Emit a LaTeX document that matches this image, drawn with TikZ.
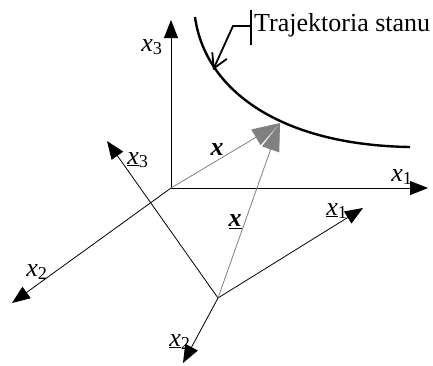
\documentclass[tikz,border=0pt]{standalone}
\usepackage{fontspec}
\setmainfont{Liberation Serif}
\usetikzlibrary{arrows.meta}

\newcommand{\ax}[1]{\textit{x}\textsubscript{#1}}
\newcommand{\uax}[1]{\underline{\textit{x}}\textsubscript{#1}}

\begin{document}
\begin{tikzpicture}[x=1pt,y=-1pt,
  axis/.style={line width=.8pt,-{Triangle[length=18pt,width=14pt]}},
  vec/.style={black!50,line width=.8pt,-{Triangle[length=28pt,width=18pt]}},
  lab/.style={inner sep=0pt,font=\fontsize{26}{30}\selectfont}]
\path[use as bounding box] (0,0) rectangle (433,365);
% frame 1
\coordinate (O) at (171,188);
\coordinate (x1end) at (428,188);
\coordinate (x2end) at (12,303);
\coordinate (x3end) at (171,20);
\draw[axis] (O) -- (x1end);
\draw[axis] (O) -- (x2end);
\draw[axis] (O) -- (x3end);
% frame 2
\coordinate (Op) at (218,298);
\coordinate (u1end) at (363,208);
\coordinate (u2end) at (183,363);
\coordinate (u3end) at (107,141);
\draw[axis] (Op) -- (u1end);
\draw[axis] (Op) -- (u2end);
\draw[axis] (Op) -- (u3end);
% state vector
\coordinate (P) at (280,123);
\draw[vec] (O) -- (P);
\draw[vec] (Op) -- (P);
% trajectory
\draw[line width=2.4pt] (195,17) .. controls (205,90) and (280,145) .. (410,147);
\node[lab,anchor=west] (traj) at (254,25) {Trajektoria stanu};
\coordinate (bartop) at (251,10);
\coordinate (barbot) at (251,45);
\coordinate (hook) at (233,26);
\coordinate (ontraj) at (213,70);
\draw[line width=1.8pt] (bartop) -- (barbot);
\draw[line width=1.8pt,-{Straight Barb[length=14pt,width=16pt]}] (251,26) -- (hook) -- (ontraj);
% labels
\node[lab] (lx1) at (402,177) {\ax{1}};
\node[lab] (lx2) at (37,272) {\ax{2}};
\node[lab] (lx3) at (152,47) {\ax{3}};
\node[lab] (lu1) at (337,211) {\uax{1}};
\node[lab] (lu2) at (180,342) {\uax{2}};
\node[lab] (lu3) at (138,160) {\uax{3}};
\node[lab] (lv) at (217,150) {\textbf{\textit{x}}};
\node[lab] (luv) at (235,222) {\underline{\textbf{\textit{x}}}};
\end{tikzpicture}
\end{document}
